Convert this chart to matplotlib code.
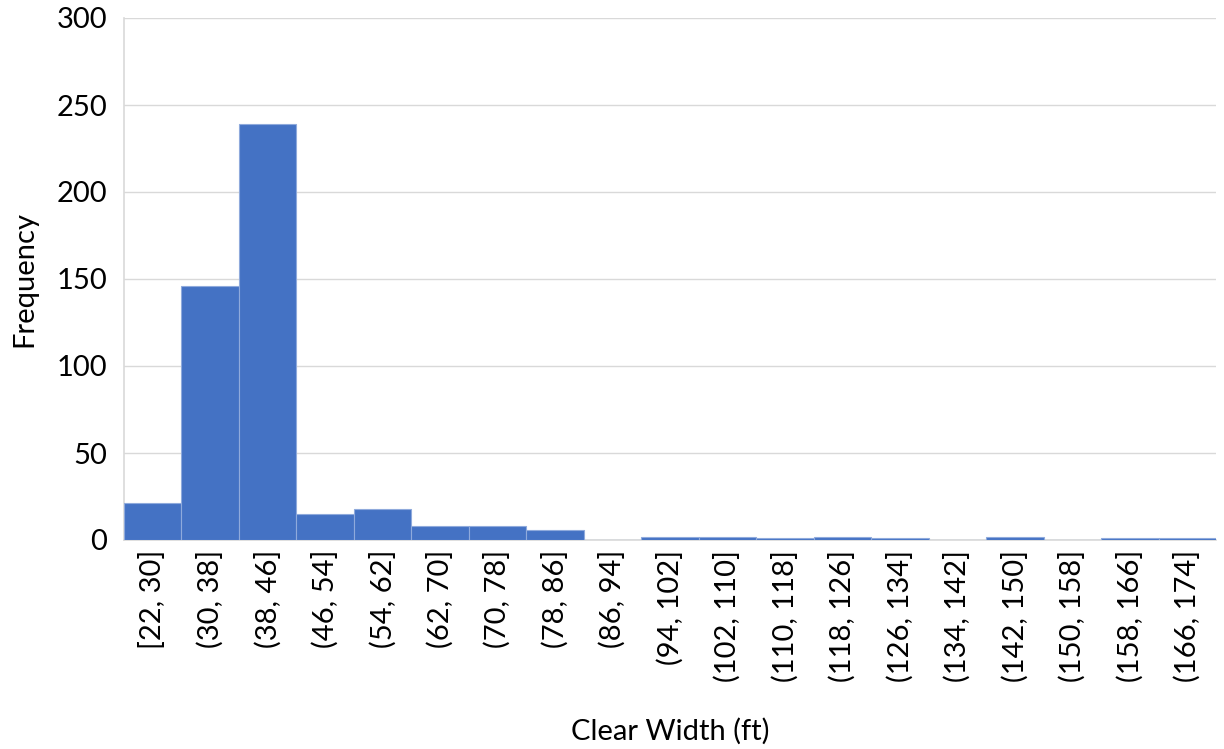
import matplotlib
matplotlib.use("Agg")
import matplotlib.pyplot as plt

bins = ["[22, 30]", "(30, 38]", "(38, 46]", "(46, 54]", "(54, 62]", "(62, 70]",
        "(70, 78]", "(78, 86]", "(86, 94]", "(94, 102]", "(102, 110]", "(110, 118]",
        "(118, 126]", "(126, 134]", "(134, 142]", "(142, 150]", "(150, 158]",
        "(158, 166]", "(166, 174]"]
freq = [21, 146, 239, 15, 18, 8, 8, 6, 0, 2, 2, 1, 2, 1, 0, 2, 0, 1, 1]

plt.rcParams['font.family'] = ['Lato', 'DejaVu Sans']

fig = plt.figure(figsize=(12.24, 7.49), dpi=100)
ax = fig.add_axes([124/1224, 1-540/749, (1216-124)/1224, (540-18)/749])

x = list(range(len(bins)))
ax.bar(x, freq, width=1.0, color="#4472C4", edgecolor="#8FAADC", linewidth=0.8, zorder=3)

ax.set_xlim(-0.5, len(bins)-0.5)
ax.set_ylim(0, 300)
ax.set_yticks([0, 50, 100, 150, 200, 250, 300])
ax.set_xticks(x)
ax.set_xticklabels(bins, rotation=90, fontsize=21)
ax.tick_params(axis='y', labelsize=21, length=0, pad=12)
ax.tick_params(axis='x', length=0, pad=7)
ax.grid(axis='y', color="#D9D9D9", linewidth=1, zorder=0)
for s in ['top', 'right']:
    ax.spines[s].set_visible(False)
for s in ['left', 'bottom']:
    ax.spines[s].set_color("#D9D9D9")
    ax.spines[s].set_linewidth(1.2)

ax.set_xlabel("Clear Width (ft)", fontsize=21, labelpad=26)
ax.set_ylabel("Frequency", fontsize=21, labelpad=14)

fig.savefig("out.png", dpi=100)
